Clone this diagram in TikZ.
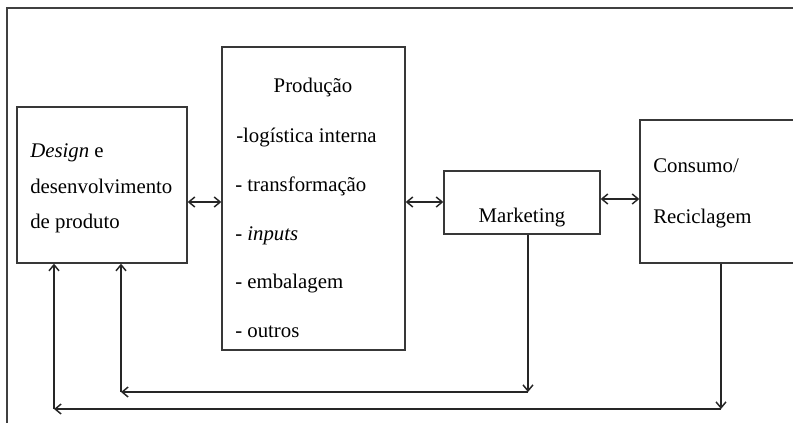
\documentclass[tikz,border=0pt]{standalone}
\usepackage{fontspec}
\setmainfont{Liberation Serif}
\usetikzlibrary{arrows.meta}

\tikzset{
  box/.style={draw=black!78, line width=1pt, inner sep=0pt},
  label/.style={inner sep=0pt, font=\fontsize{15.6}{19}\selectfont, text=black},
  flow/.style={draw=black!85, line width=1.1pt, -{Straight Barb[length=4.5pt,width=7.5pt]}},
  biflow/.style={draw=black!85, line width=1.1pt, {Straight Barb[length=4.5pt,width=7.5pt]}-{Straight Barb[length=4.5pt,width=7.5pt]}}
}

\begin{document}
\begin{tikzpicture}[x=0.75pt, y=-0.75pt]
  \useasboundingbox (0,0) rectangle (793,422);
  \clip (0,0) rectangle (793,422);

  % outer frame (open to the right and bottom)
  \draw[draw=black!75, line width=1pt] (7,440) -- (7,8) -- (810,8);

  % boxes
  \node[box, minimum width=170*0.75pt, minimum height=156*0.75pt] (design) at (102,185) {};
  \node[box, minimum width=183*0.75pt, minimum height=303*0.75pt] (prod) at (313.5,198.5) {};
  \node[box, minimum width=156*0.75pt, minimum height=63*0.75pt] (mkt) at (522,202.5) {};
  \node[box, minimum width=180*0.75pt, minimum height=143*0.75pt] (cons) at (730,191.5) {};

  % texts
  \node[label, anchor=base west] (t1) at (30,157) {\textit{Design} e};
  \node[label, anchor=base west] (t2) at (30,193) {desenvolvimento};
  \node[label, anchor=base west] (t3) at (30,228) {de produto};

  \node[label, anchor=base] (p0) at (313,92) {Produção};
  \node[label, anchor=base west] (p1) at (236,142) {-logística interna};
  \node[label, anchor=base west] (p2) at (235,191) {- transformação};
  \node[label, anchor=base west] (p3) at (235,240) {- \textit{inputs}};
  \node[label, anchor=base west] (p4) at (235,288) {- embalagem};
  \node[label, anchor=base west] (p5) at (235,337) {- outros};

  \node[label, anchor=base] (m0) at (522,222) {Marketing};

  \node[label, anchor=base west] (c0) at (653,172) {Consumo/};
  \node[label, anchor=base west] (c1t) at (653,223) {Reciclagem};

  % horizontal two-way links
  \coordinate (rowA) at (0,202);
  \coordinate (rowB) at (0,199);
  \draw[biflow] (design.east |- rowA) -- (prod.west |- rowA);
  \draw[biflow] (prod.east |- rowA) -- (mkt.west |- rowA);
  \draw[biflow] (mkt.east |- rowB) -- (cons.west |- rowB);

  % feedback loops
  \coordinate (k1) at (528,392);
  \coordinate (k2) at (121,392);
  \coordinate (k3) at (721,409);
  \coordinate (k4) at (54,409);

  \draw[flow] (mkt.south -| k1) -- (k1);
  \draw[flow] (k1) -- (k2);
  \draw[flow] (k2) -- (design.south -| k2);

  \draw[flow] (cons.south -| k3) -- (k3);
  \draw[flow] (k3) -- (k4);
  \draw[flow] (k4) -- (design.south -| k4);
\end{tikzpicture}
\end{document}
